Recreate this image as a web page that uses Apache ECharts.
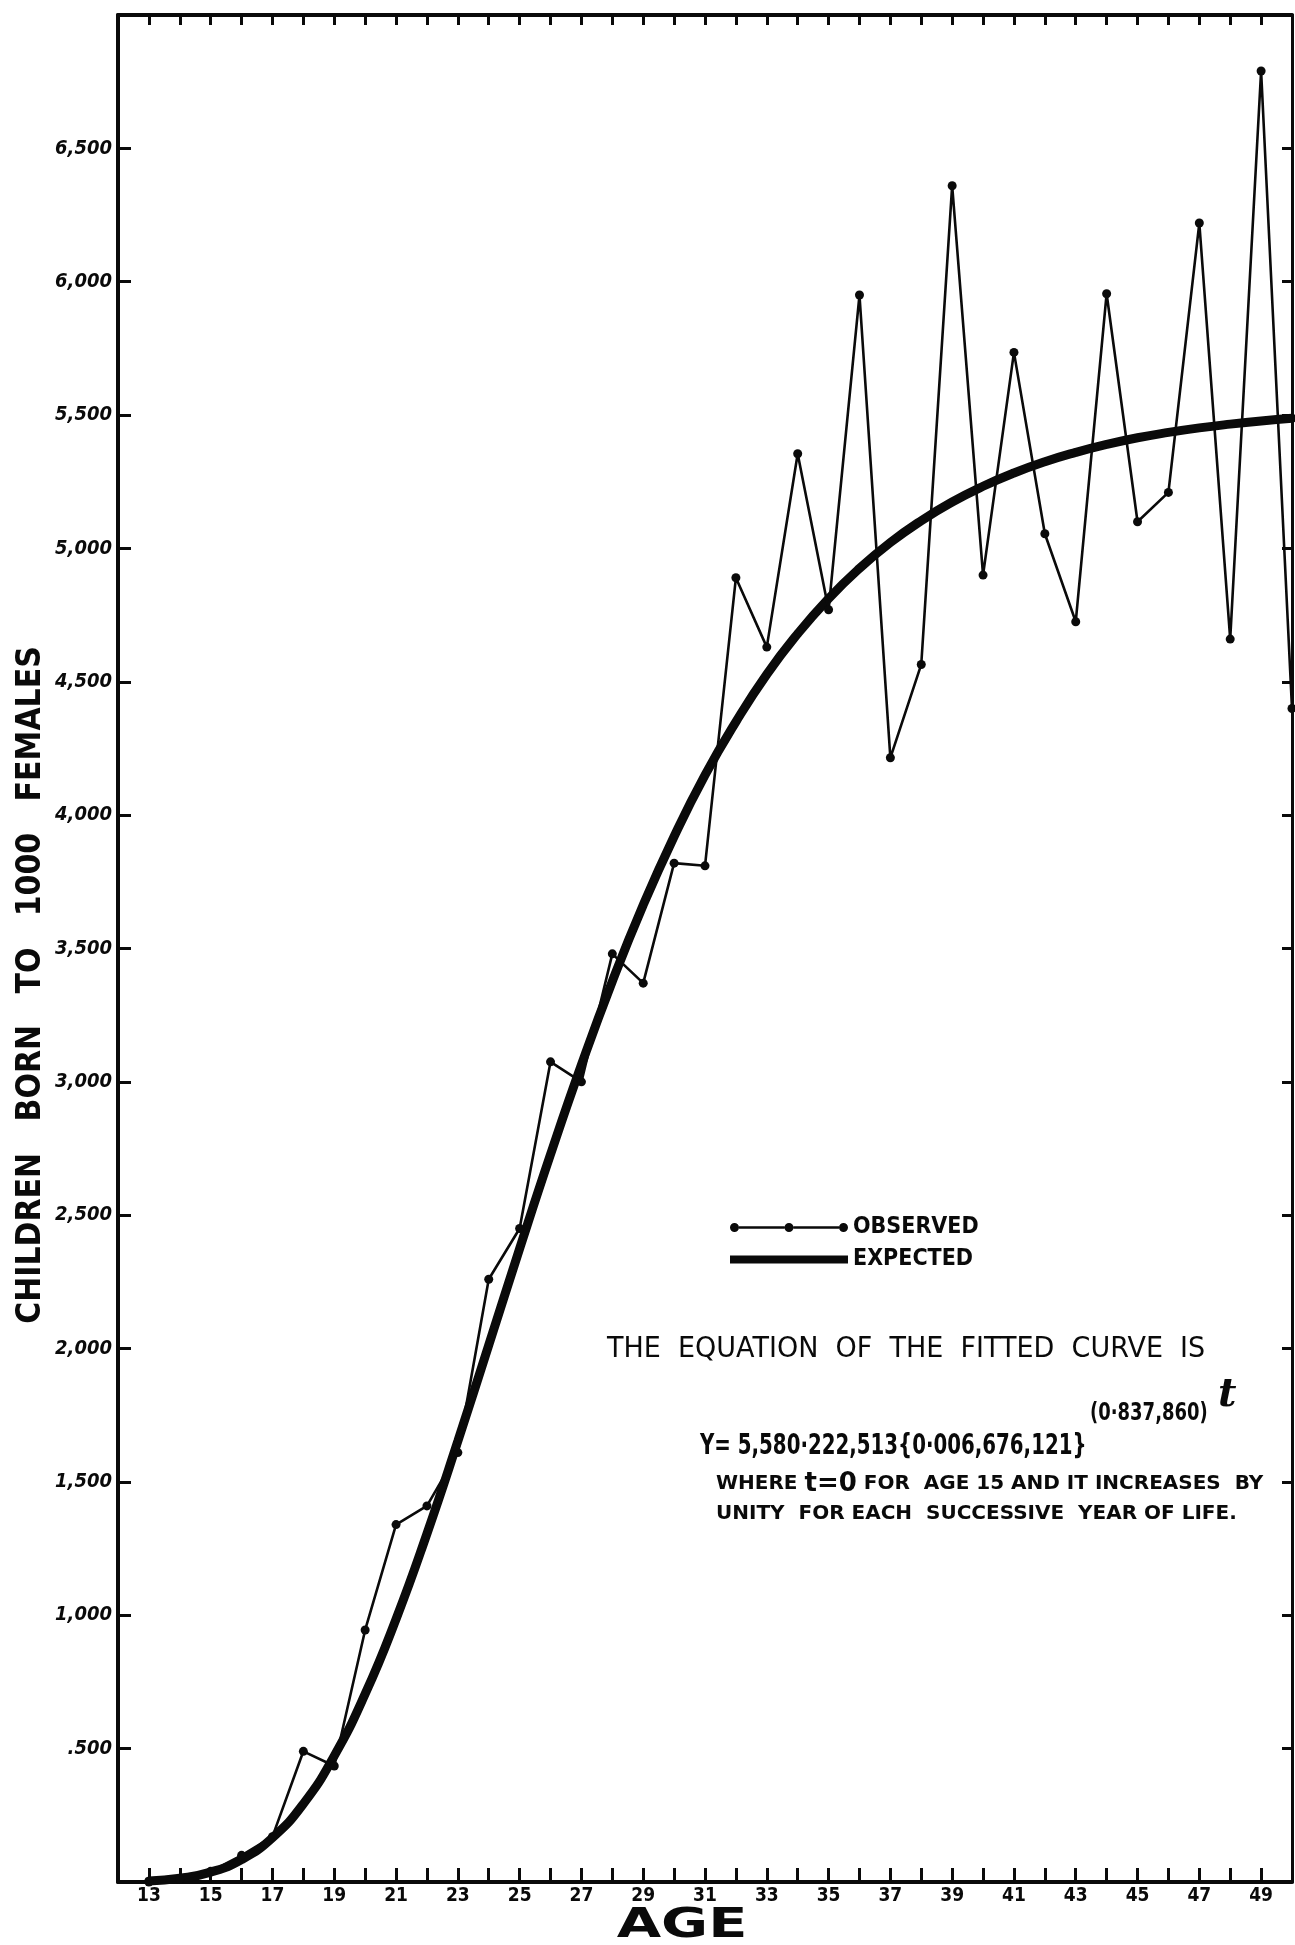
<!DOCTYPE html>
<html>
<head>
<meta charset="utf-8">
<script src="https://cdn.jsdelivr.net/npm/echarts@6/dist/echarts.min.js"></script>
<style>
html,body{margin:0;padding:0;background:#fff;}
#chart{width:1295px;height:1945px;}
</style>
</head>
<body>
<div id="chart"></div>
<script>
// ---- data ----
const ages = [13,14,15,16,17,18,19,20,21,22,23,24,25,26,27,28,29,30,31,32,33,34,35,36,37,38,39,40,41,42,43,44,45,46,47,48,49,50];
const observed = [0,10,40,100,170,490,435,945,1340,1410,1610,2260,2450,3075,3000,3480,3370,3820,3810,4890,4630,5355,4770,5950,4215,4565,6360,4900,5735,5055,4725,5955,5100,5210,6220,4660,6790,4400];
const expected = [4,14,37,84,166,293,473,705,986,1306,1653,2013,2375,2728,3064,3377,3663,3920,4150,4350,4528,4680,4812,4925,5022,5104,5174,5233,5283,5325,5360,5390,5415,5435,5452,5466,5478,5488];
const yTickValues = [500,1000,1500,2000,2500,3000,3500,4000,4500,5000,5500,6000,6500];
const yTickLabels = ['.500','1,000','1,500','2,000','2,500','3,000','3,500','4,000','4,500','5,000','5,500','6,000','6,500'];
const xLabelAges = [13,15,17,19,21,23,25,27,29,31,33,35,37,39,41,43,45,47,49];

const chart = echarts.init(document.getElementById('chart'), null, {renderer:'canvas'});
const ink = '#0a0a0a';
const condFont = '"DejaVu Sans Condensed","DejaVu Sans",sans-serif';

// legend icons (filled paths, no overlapping parts)
const observedIcon = 'path://M0,6 a4.5,4.5 0 1,1 9,0 a4.5,4.5 0 1,1 -9,0 Z M9,4.8 L54.5,4.8 L54.5,7.2 L9,7.2 Z M54.5,6 a4.5,4.5 0 1,1 9,0 a4.5,4.5 0 1,1 -9,0 Z M63.5,4.8 L109,4.8 L109,7.2 L63.5,7.2 Z M109,6 a4.5,4.5 0 1,1 9,0 a4.5,4.5 0 1,1 -9,0 Z';
const expectedIcon = 'path://M0,2 L118,2 L118,10 L0,10 Z';

const option = {
  backgroundColor:'#fff',
  animation:false,
  grid:{left:118, right:2, top:15, bottom:63, containLabel:false},
  legend:{
    orient:'vertical', left:725, top:1211, itemWidth:118, itemHeight:12, itemGap:9,
    itemStyle:{color:ink, borderWidth:0},
    textStyle:{color:ink, fontSize:23, fontFamily:condFont, fontWeight:'bold'},
    data:[{name:'OBSERVED', icon:observedIcon, itemStyle:{color:ink, borderWidth:0}},
          {name:'EXPECTED', icon:expectedIcon, itemStyle:{color:ink, borderWidth:0}}]
  },
  xAxis:[
    {type:'value', min:12, max:50, interval:1, position:'bottom',
     axisLine:{show:true, onZero:false, lineStyle:{color:ink, width:4}},
     axisTick:{show:true, inside:true, length:14, lineStyle:{color:ink, width:3}},
     axisLabel:{color:ink, fontSize:19, fontWeight:'bold', fontFamily:condFont, margin:5,
       formatter:v => xLabelAges.indexOf(v) >= 0 ? String(v) : ''},
     splitLine:{show:false}},
    {type:'value', min:12, max:50, interval:1, position:'top',
     axisLine:{show:true, onZero:false, lineStyle:{color:ink, width:4}},
     axisTick:{show:true, inside:true, length:10, lineStyle:{color:ink, width:3}},
     axisLabel:{show:false}, splitLine:{show:false}}
  ],
  yAxis:[
    {type:'value', min:0, max:7000, interval:500, position:'left',
     axisLine:{show:true, onZero:false, lineStyle:{color:ink, width:4}},
     axisTick:{show:true, inside:true, length:13, lineStyle:{color:ink, width:3}},
     axisLabel:{color:ink, fontSize:20, fontStyle:'italic', fontWeight:'bold', fontFamily:condFont, margin:6,
       formatter:v => { const i = yTickValues.indexOf(v); return i >= 0 ? yTickLabels[i] : ''; }},
     splitLine:{show:false}},
    {type:'value', min:0, max:7000, interval:500, position:'right',
     axisLine:{show:true, onZero:false, lineStyle:{color:ink, width:3}},
     axisTick:{show:true, inside:true, length:10, lineStyle:{color:ink, width:3}},
     axisLabel:{show:false}, splitLine:{show:false}}
  ],
  series:[
    {name:'OBSERVED', type:'line', xAxisIndex:0, yAxisIndex:0,
     data:ages.map((a,i)=>[a, observed[i]]),
     symbol:'circle', symbolSize:9, showAllSymbol:true,
     lineStyle:{color:ink, width:2.6}, itemStyle:{color:ink}, z:3},
    {name:'EXPECTED', type:'line', xAxisIndex:0, yAxisIndex:0,
     data:ages.map((a,i)=>[a, expected[i]]),
     smooth:true, symbol:'none',
     lineStyle:{color:ink, width:9, cap:'round'}, itemStyle:{color:ink}, z:2}
  ],
  graphic:[
    {type:'text', x:31, y:985, rotation:Math.PI/2, scaleY:1.12,
     style:{text:'CHILDREN   BORN   TO   1000   FEMALES', fill:ink, font:'bold 30px "DejaVu Sans",sans-serif', align:'center', verticalAlign:'middle'}},
    {type:'text', x:682, y:1926, scaleX:1.4,
     style:{text:'AGE', fill:ink, font:'bold 41px "DejaVu Sans",sans-serif', align:'center', verticalAlign:'middle'}},
    {type:'text', x:607, y:1350, scaleY:1.05,
     style:{text:'THE  EQUATION  OF  THE  FITTED  CURVE  IS', fill:ink, font:'27px "DejaVu Sans",sans-serif', align:'left', verticalAlign:'middle'}},
    {type:'text', x:1090, y:1414, scaleY:1.2,
     style:{text:'(0·837,860)', fill:ink, font:'bold 20px "DejaVu Sans Condensed","DejaVu Sans",sans-serif', align:'left', verticalAlign:'middle'}},
    {type:'text', x:1218, y:1396,
     style:{text:'t', fill:ink, font:'italic bold 40px "DejaVu Serif",serif', align:'left', verticalAlign:'middle'}},
    {type:'text', x:700, y:1447, scaleY:1.3,
     style:{text:'Y= 5,580·222,513{0·006,676,121}', fill:ink, font:'bold 22px "DejaVu Sans Condensed","DejaVu Sans",sans-serif', align:'left', verticalAlign:'middle'}},
    {type:'text', x:716, y:1484,
     style:{text:'WHERE {b|t=0} FOR  AGE 15 AND IT INCREASES  BY', fill:ink, font:'bold 20px "DejaVu Sans",sans-serif', align:'left', verticalAlign:'middle',
       rich:{b:{font:'bold 26px "DejaVu Sans",sans-serif', fill:ink}}}},
    {type:'text', x:716, y:1514,
     style:{text:'UNITY  FOR EACH  SUCCESSIVE  YEAR OF LIFE.', fill:ink, font:'bold 20px "DejaVu Sans",sans-serif', align:'left', verticalAlign:'middle'}}
  ]
};
chart.setOption(option);
</script>
</body>
</html>
